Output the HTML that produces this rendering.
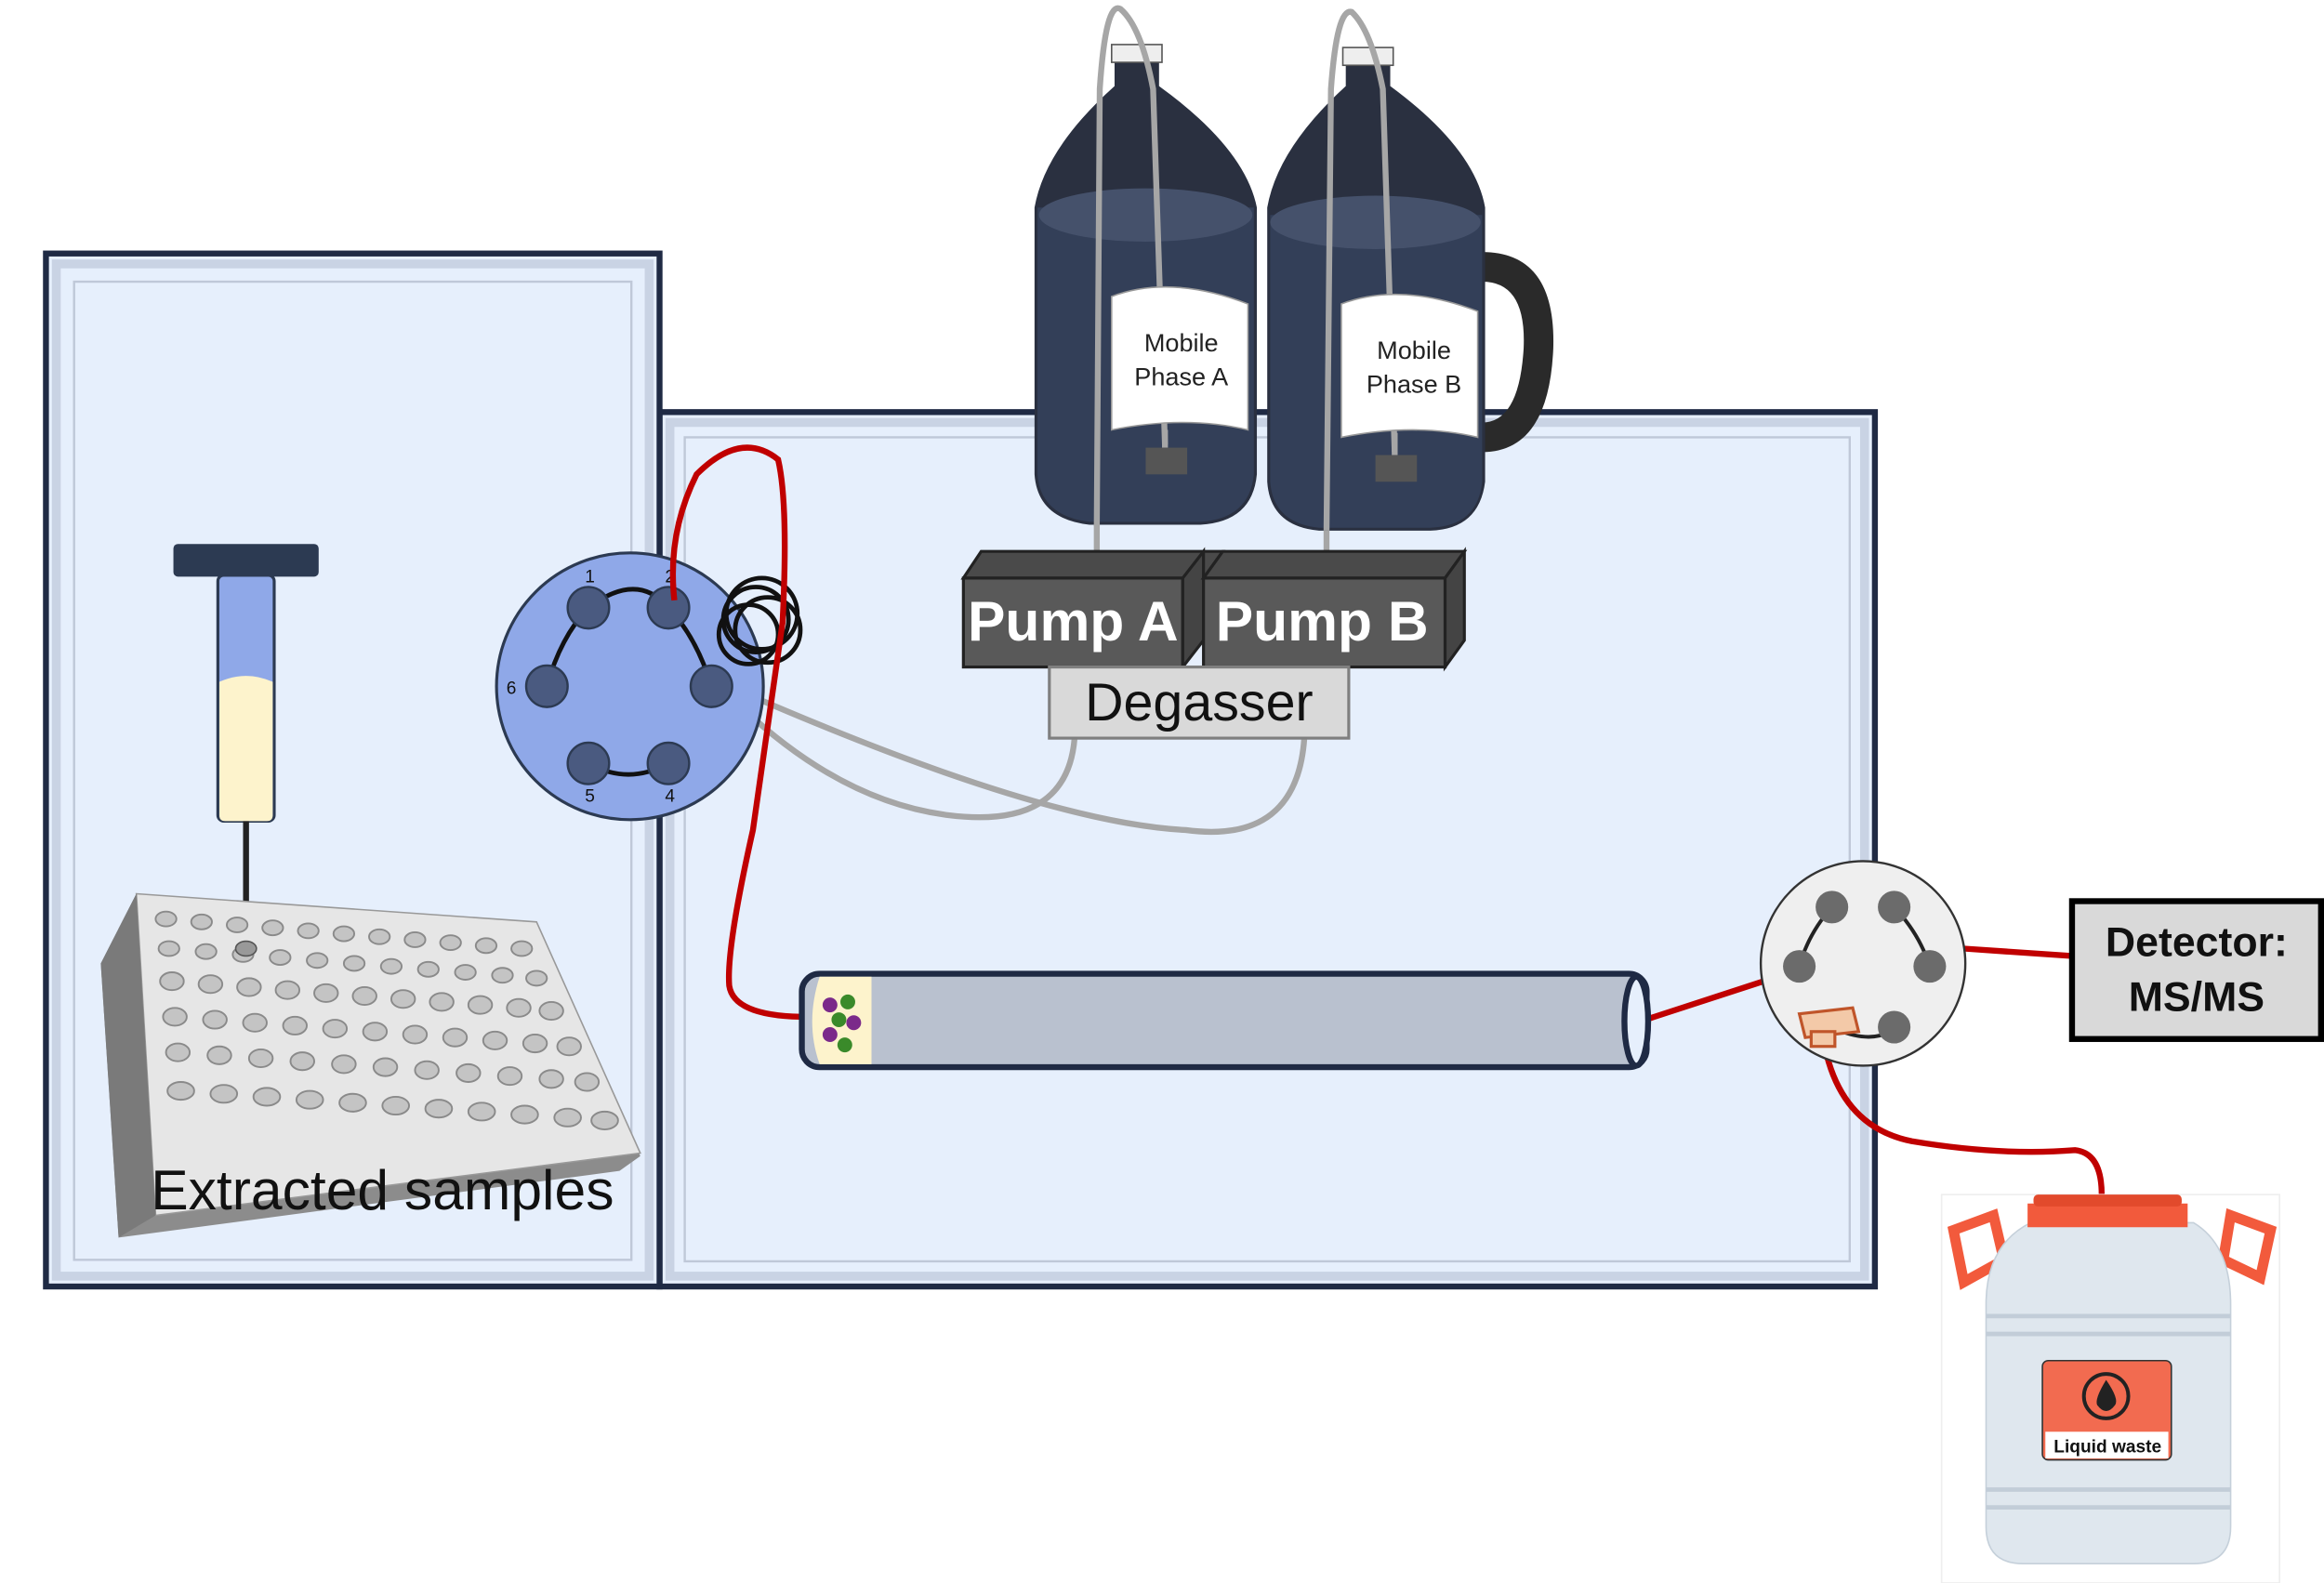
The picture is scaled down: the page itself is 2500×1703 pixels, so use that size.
<!DOCTYPE html>
<html><head><meta charset="utf-8">
<style>html,body{margin:0;padding:0;background:#fff}svg{display:block}</style>
</head><body>
<svg width="2500" height="1703" viewBox="0 0 1568 1068" xmlns="http://www.w3.org/2000/svg" font-family="Liberation Sans, sans-serif">
<rect width="1568" height="1068" fill="#fff"/>
<rect x="445" y="278" width="820" height="590" fill="#e6effc" stroke="#1f2a44" stroke-width="4"/>
<rect x="452" y="285" width="806" height="576" fill="none" stroke="#c9d3e4" stroke-width="6"/>
<rect x="462" y="295" width="786" height="556" fill="none" stroke="#bfc8d8" stroke-width="1.5"/>
<rect x="31" y="171" width="414" height="697" fill="#e6effc" stroke="#1f2a44" stroke-width="4"/>
<rect x="38" y="178" width="400" height="683" fill="none" stroke="#c9d3e4" stroke-width="6"/>
<rect x="50" y="190" width="376" height="660" fill="none" stroke="#bfc8d8" stroke-width="1.5"/>

<g fill="none" stroke="#a6a6a6" stroke-width="4">
<path d="M725 498 Q720 560 640 550 Q560 540 485 462"/>
<path d="M880 498 Q875 570 800 560 Q700 555 485 460"/>
<line x1="740" y1="350" x2="740" y2="372"/>
<line x1="895" y1="355" x2="895" y2="372"/>
</g>

<g>
<path d="M752 40 L782 40 L782 58 Q840 100 848 140 L848 320 Q845 352 810 354 L735 354 Q700 350 698 320 L698 140 Q705 100 752 58 Z" fill="#2a3040"/>
<path d="M700 140 L846 140 L846 320 Q843 350 810 352 L735 352 Q702 348 700 320 Z" fill="#333f58"/>
<ellipse cx="773" cy="145" rx="72" ry="18" fill="#45516b"/>
<rect x="750" y="30" width="34" height="12" fill="#eee" stroke="#555"/>
</g>
<g>
<path d="M1000 170 Q1050 170 1048 235 Q1045 305 1000 305 L1000 285 Q1025 285 1028 235 Q1030 190 1000 190 Z" fill="#2a2a2a"/>
<path d="M908 40 L938 40 L938 58 Q995 100 1002 140 L1002 325 Q998 357 965 358 L890 358 Q857 355 855 325 L855 140 Q862 100 908 58 Z" fill="#2a3040"/>
<path d="M857 145 L1000 145 L1000 325 Q997 355 965 356 L890 356 Q859 353 857 325 Z" fill="#333f58"/>
<ellipse cx="928" cy="150" rx="71" ry="18" fill="#45516b"/>
<rect x="906" y="32" width="34" height="12" fill="#eee" stroke="#555"/>
</g>
<!-- tubes over bottles -->
<g fill="none" stroke="#a6a6a6" stroke-width="4">
<path d="M740 355 L742 60 Q746 0 756 6 Q770 18 778 60 L786 300"/>
<path d="M895 358 L898 60 Q902 5 912 8 Q925 20 933 60 L941 305"/>
</g>
<path d="M750 200 Q790 185 842 205 L842 290 Q800 280 750 290 Z" fill="#fff" stroke="#999"/>
<text x="797" y="237" font-size="17" text-anchor="middle" fill="#222">Mobile</text>
<text x="797" y="260" font-size="17" text-anchor="middle" fill="#222">Phase A</text>
<line x1="786" y1="290" x2="786" y2="302" stroke="#a6a6a6" stroke-width="4"/>
<rect x="773" y="302" width="28" height="18" fill="#555"/>
<path d="M905 205 Q945 190 997 210 L997 295 Q955 285 905 295 Z" fill="#fff" stroke="#999"/>
<text x="954" y="242" font-size="17" text-anchor="middle" fill="#222">Mobile</text>
<text x="954" y="265" font-size="17" text-anchor="middle" fill="#222">Phase B</text>
<line x1="941" y1="292" x2="941" y2="307" stroke="#a6a6a6" stroke-width="4"/>
<rect x="928" y="307" width="28" height="18" fill="#555"/>

<path d="M650 390 L662 372 L825 372 L812 390 Z" fill="#4a4a4a" stroke="#222" stroke-width="2"/>
<rect x="650" y="390" width="148" height="60" fill="#595959" stroke="#222" stroke-width="2"/>
<path d="M798 390 L812 372 L812 432 L798 450 Z" fill="#444" stroke="#222" stroke-width="2"/>
<path d="M812 390 L825 372 L988 372 L975 390 Z" fill="#4a4a4a" stroke="#222" stroke-width="2"/>
<rect x="812" y="390" width="163" height="60" fill="#595959" stroke="#222" stroke-width="2"/>
<path d="M975 390 L988 372 L988 432 L975 450 Z" fill="#444" stroke="#222" stroke-width="2"/>
<text x="724" y="432" font-size="38" font-weight="bold" fill="#fff" text-anchor="middle">Pump A</text>
<text x="892" y="432" font-size="38" font-weight="bold" fill="#fff" text-anchor="middle">Pump B</text>
<rect x="708" y="450" width="202" height="48" fill="#d9d9d9" stroke="#7f7f7f" stroke-width="2"/>
<text x="809" y="486" font-size="36" fill="#111" text-anchor="middle">Degasser</text>

<rect x="147" y="388" width="38" height="166" rx="4" fill="#8fa8e8" stroke="#2c3a52" stroke-width="2"/>
<path d="M148 460 Q166 452 184 460 L184 550 Q184 554 180 554 L152 554 Q148 554 148 550 Z" fill="#fdf3cc"/>
<rect x="117" y="367" width="98" height="22" rx="3" fill="#2c3a52"/>
<line x1="166" y1="554" x2="166" y2="640" stroke="#222" stroke-width="4"/>

<path d="M92 603 L362 622 L432 780 L418 790 L80 835 L68 650 Z" fill="#8c8c8c"/>
<path d="M92 603 L362 622 L432 778 L105 820 Z" fill="#e6e6e6" stroke="#999"/>
<path d="M68 650 L92 603 L105 820 L80 835 Z" fill="#7a7a7a"/>
<g fill="#c4c4c4" stroke="#8a8a8a" stroke-width="1.2">
<ellipse cx="112" cy="620" rx="7" ry="5"/><ellipse cx="136" cy="622" rx="7" ry="5"/><ellipse cx="160" cy="624" rx="7" ry="5"/><ellipse cx="184" cy="626" rx="7" ry="5"/><ellipse cx="208" cy="628" rx="7" ry="5"/><ellipse cx="232" cy="630" rx="7" ry="5"/><ellipse cx="256" cy="632" rx="7" ry="5"/><ellipse cx="280" cy="634" rx="7" ry="5"/><ellipse cx="304" cy="636" rx="7" ry="5"/><ellipse cx="328" cy="638" rx="7" ry="5"/><ellipse cx="352" cy="640" rx="7" ry="5"/>
<ellipse cx="114" cy="640" rx="7" ry="5"/><ellipse cx="139" cy="642" rx="7" ry="5"/><ellipse cx="164" cy="644" rx="7" ry="5"/><ellipse cx="189" cy="646" rx="7" ry="5"/><ellipse cx="214" cy="648" rx="7" ry="5"/><ellipse cx="239" cy="650" rx="7" ry="5"/><ellipse cx="264" cy="652" rx="7" ry="5"/><ellipse cx="289" cy="654" rx="7" ry="5"/><ellipse cx="314" cy="656" rx="7" ry="5"/><ellipse cx="339" cy="658" rx="7" ry="5"/><ellipse cx="362" cy="660" rx="7" ry="5"/>
<ellipse cx="116" cy="662" rx="8" ry="6"/><ellipse cx="142" cy="664" rx="8" ry="6"/><ellipse cx="168" cy="666" rx="8" ry="6"/><ellipse cx="194" cy="668" rx="8" ry="6"/><ellipse cx="220" cy="670" rx="8" ry="6"/><ellipse cx="246" cy="672" rx="8" ry="6"/><ellipse cx="272" cy="674" rx="8" ry="6"/><ellipse cx="298" cy="676" rx="8" ry="6"/><ellipse cx="324" cy="678" rx="8" ry="6"/><ellipse cx="350" cy="680" rx="8" ry="6"/><ellipse cx="372" cy="682" rx="8" ry="6"/>
<ellipse cx="118" cy="686" rx="8" ry="6"/><ellipse cx="145" cy="688" rx="8" ry="6"/><ellipse cx="172" cy="690" rx="8" ry="6"/><ellipse cx="199" cy="692" rx="8" ry="6"/><ellipse cx="226" cy="694" rx="8" ry="6"/><ellipse cx="253" cy="696" rx="8" ry="6"/><ellipse cx="280" cy="698" rx="8" ry="6"/><ellipse cx="307" cy="700" rx="8" ry="6"/><ellipse cx="334" cy="702" rx="8" ry="6"/><ellipse cx="361" cy="704" rx="8" ry="6"/><ellipse cx="384" cy="706" rx="8" ry="6"/>
<ellipse cx="120" cy="710" rx="8" ry="6"/><ellipse cx="148" cy="712" rx="8" ry="6"/><ellipse cx="176" cy="714" rx="8" ry="6"/><ellipse cx="204" cy="716" rx="8" ry="6"/><ellipse cx="232" cy="718" rx="8" ry="6"/><ellipse cx="260" cy="720" rx="8" ry="6"/><ellipse cx="288" cy="722" rx="8" ry="6"/><ellipse cx="316" cy="724" rx="8" ry="6"/><ellipse cx="344" cy="726" rx="8" ry="6"/><ellipse cx="372" cy="728" rx="8" ry="6"/><ellipse cx="396" cy="730" rx="8" ry="6"/>
<ellipse cx="122" cy="736" rx="9" ry="6"/><ellipse cx="151" cy="738" rx="9" ry="6"/><ellipse cx="180" cy="740" rx="9" ry="6"/><ellipse cx="209" cy="742" rx="9" ry="6"/><ellipse cx="238" cy="744" rx="9" ry="6"/><ellipse cx="267" cy="746" rx="9" ry="6"/><ellipse cx="296" cy="748" rx="9" ry="6"/><ellipse cx="325" cy="750" rx="9" ry="6"/><ellipse cx="354" cy="752" rx="9" ry="6"/><ellipse cx="383" cy="754" rx="9" ry="6"/><ellipse cx="408" cy="756" rx="9" ry="6"/>
</g>
<ellipse cx="166" cy="640" rx="7" ry="5" fill="#999" stroke="#555"/>
<text x="258" y="816" font-size="38" fill="#111" text-anchor="middle">Extracted samples</text>

<circle cx="425" cy="463" r="90" fill="#8fa8e8" stroke="#2c3a52" stroke-width="2"/>
<g fill="none" stroke="#111" stroke-width="3">
<path d="M397 410 Q378 430 369 463"/>
<path d="M451 410 Q470 430 480 463"/>
<path d="M397 515 Q424 530 451 515"/>
<path d="M397 410 Q430 385 451 410"/>
<circle cx="510" cy="418" r="22"/><circle cx="518" cy="425" r="22"/><circle cx="505" cy="428" r="20"/><circle cx="514" cy="414" r="24"/>
</g>
<g fill="#4a5a80" stroke="#2c3a52" stroke-width="1.5">
<circle cx="397" cy="410" r="14"/><circle cx="451" cy="410" r="14"/><circle cx="480" cy="463" r="14"/>
<circle cx="451" cy="515" r="14"/><circle cx="397" cy="515" r="14"/><circle cx="369" cy="463" r="14"/>
</g>
<g font-size="12" fill="#111" text-anchor="middle"><text x="398" y="393">1</text><text x="452" y="393">2</text><text x="345" y="468">6</text><text x="398" y="541">5</text><text x="452" y="541">4</text></g>

<g fill="none" stroke="#c00000" stroke-width="4">
<path d="M455 405 Q450 360 470 320 Q500 290 525 310 Q532 340 528 420 L508 560 Q490 640 492 665 Q495 685 540 686"/>
<path d="M1104 690 L1190 662"/>
<path d="M1325 640 L1398 645"/>
<path d="M1230 700 Q1240 760 1290 770 Q1350 780 1400 776 Q1418 778 1418 806"/>
</g>

<rect x="541" y="657" width="570" height="63" rx="12" fill="#b9c1cf" stroke="#1f2a44" stroke-width="4"/>
<path d="M553 659 L588 659 L588 718 L553 718 Q543 690 553 659 Z" fill="#fdf3cc"/>
<ellipse cx="1104" cy="689" rx="8" ry="30" fill="#e6effc" stroke="#1f2a44" stroke-width="4"/>
<g><circle cx="560" cy="678" r="5" fill="#7b2a8a"/><circle cx="572" cy="676" r="5" fill="#3a8a2a"/><circle cx="566" cy="688" r="5" fill="#3a8a2a"/><circle cx="576" cy="690" r="5" fill="#7b2a8a"/><circle cx="560" cy="698" r="5" fill="#7b2a8a"/><circle cx="570" cy="705" r="5" fill="#3a8a2a"/></g>

<circle cx="1257" cy="650" r="69" fill="#efefef" stroke="#333" stroke-width="1.5"/>
<g fill="none" stroke="#222" stroke-width="2.5"><path d="M1236 612 Q1220 630 1214 652"/><path d="M1278 612 Q1295 630 1302 652"/><path d="M1280 693 Q1265 705 1240 695"/></g>
<g fill="#6b6b6b"><circle cx="1236" cy="612" r="11"/><circle cx="1278" cy="612" r="11"/><circle cx="1214" cy="652" r="11"/><circle cx="1302" cy="652" r="11"/><circle cx="1278" cy="693" r="11"/></g>
<path d="M1214 684 L1250 680 L1254 696 L1218 700 Z" fill="#f3c9a8" stroke="#c0552a" stroke-width="2"/>
<rect x="1222" y="696" width="16" height="10" fill="#f3c9a8" stroke="#c0552a" stroke-width="2"/>

<rect x="1398" y="608" width="168" height="93" fill="#d9d9d9" stroke="#000" stroke-width="4"/>
<text x="1482" y="645" font-size="28" font-weight="bold" text-anchor="middle" fill="#111">Detector:</text>
<text x="1482" y="682" font-size="28" font-weight="bold" text-anchor="middle" fill="#111">MS/MS</text>

<rect x="1310" y="806" width="228" height="262" fill="#fff" stroke="#eee"/>
<path d="M1318 830 L1345 820 L1352 850 L1325 865 Z M1505 820 L1532 830 L1525 862 L1500 850 Z" fill="none" stroke="#f25a3c" stroke-width="7"/>
<path d="M1370 825 L1480 825 Q1505 840 1505 880 L1505 1030 Q1505 1055 1480 1055 L1365 1055 Q1340 1055 1340 1030 L1340 880 Q1340 840 1370 825 Z" fill="#dfe7ee" stroke="#c5d0da"/>
<g stroke="#c2cdd8" stroke-width="3"><line x1="1340" y1="888" x2="1505" y2="888"/><line x1="1340" y1="900" x2="1505" y2="900"/><line x1="1340" y1="1005" x2="1505" y2="1005"/><line x1="1340" y1="1017" x2="1505" y2="1017"/></g>
<path d="M1368 812 L1476 812 L1476 828 L1368 828 Z" fill="#f25a3c"/>
<rect x="1372" y="806" width="100" height="8" rx="3" fill="#e24a2c"/>
<rect x="1378" y="918" width="87" height="67" rx="4" fill="#f26b50" stroke="#333"/>
<rect x="1380" y="966" width="83" height="18" fill="#fff"/>
<circle cx="1421" cy="942" r="15" fill="none" stroke="#222" stroke-width="2.5"/>
<path d="M1421 931 Q1430 944 1427 948 Q1421 956 1415 948 Q1413 944 1421 931 Z" fill="#222"/>
<text x="1422" y="980" font-size="12" font-weight="bold" text-anchor="middle" fill="#111">Liquid waste</text>
</svg>
</body></html>
